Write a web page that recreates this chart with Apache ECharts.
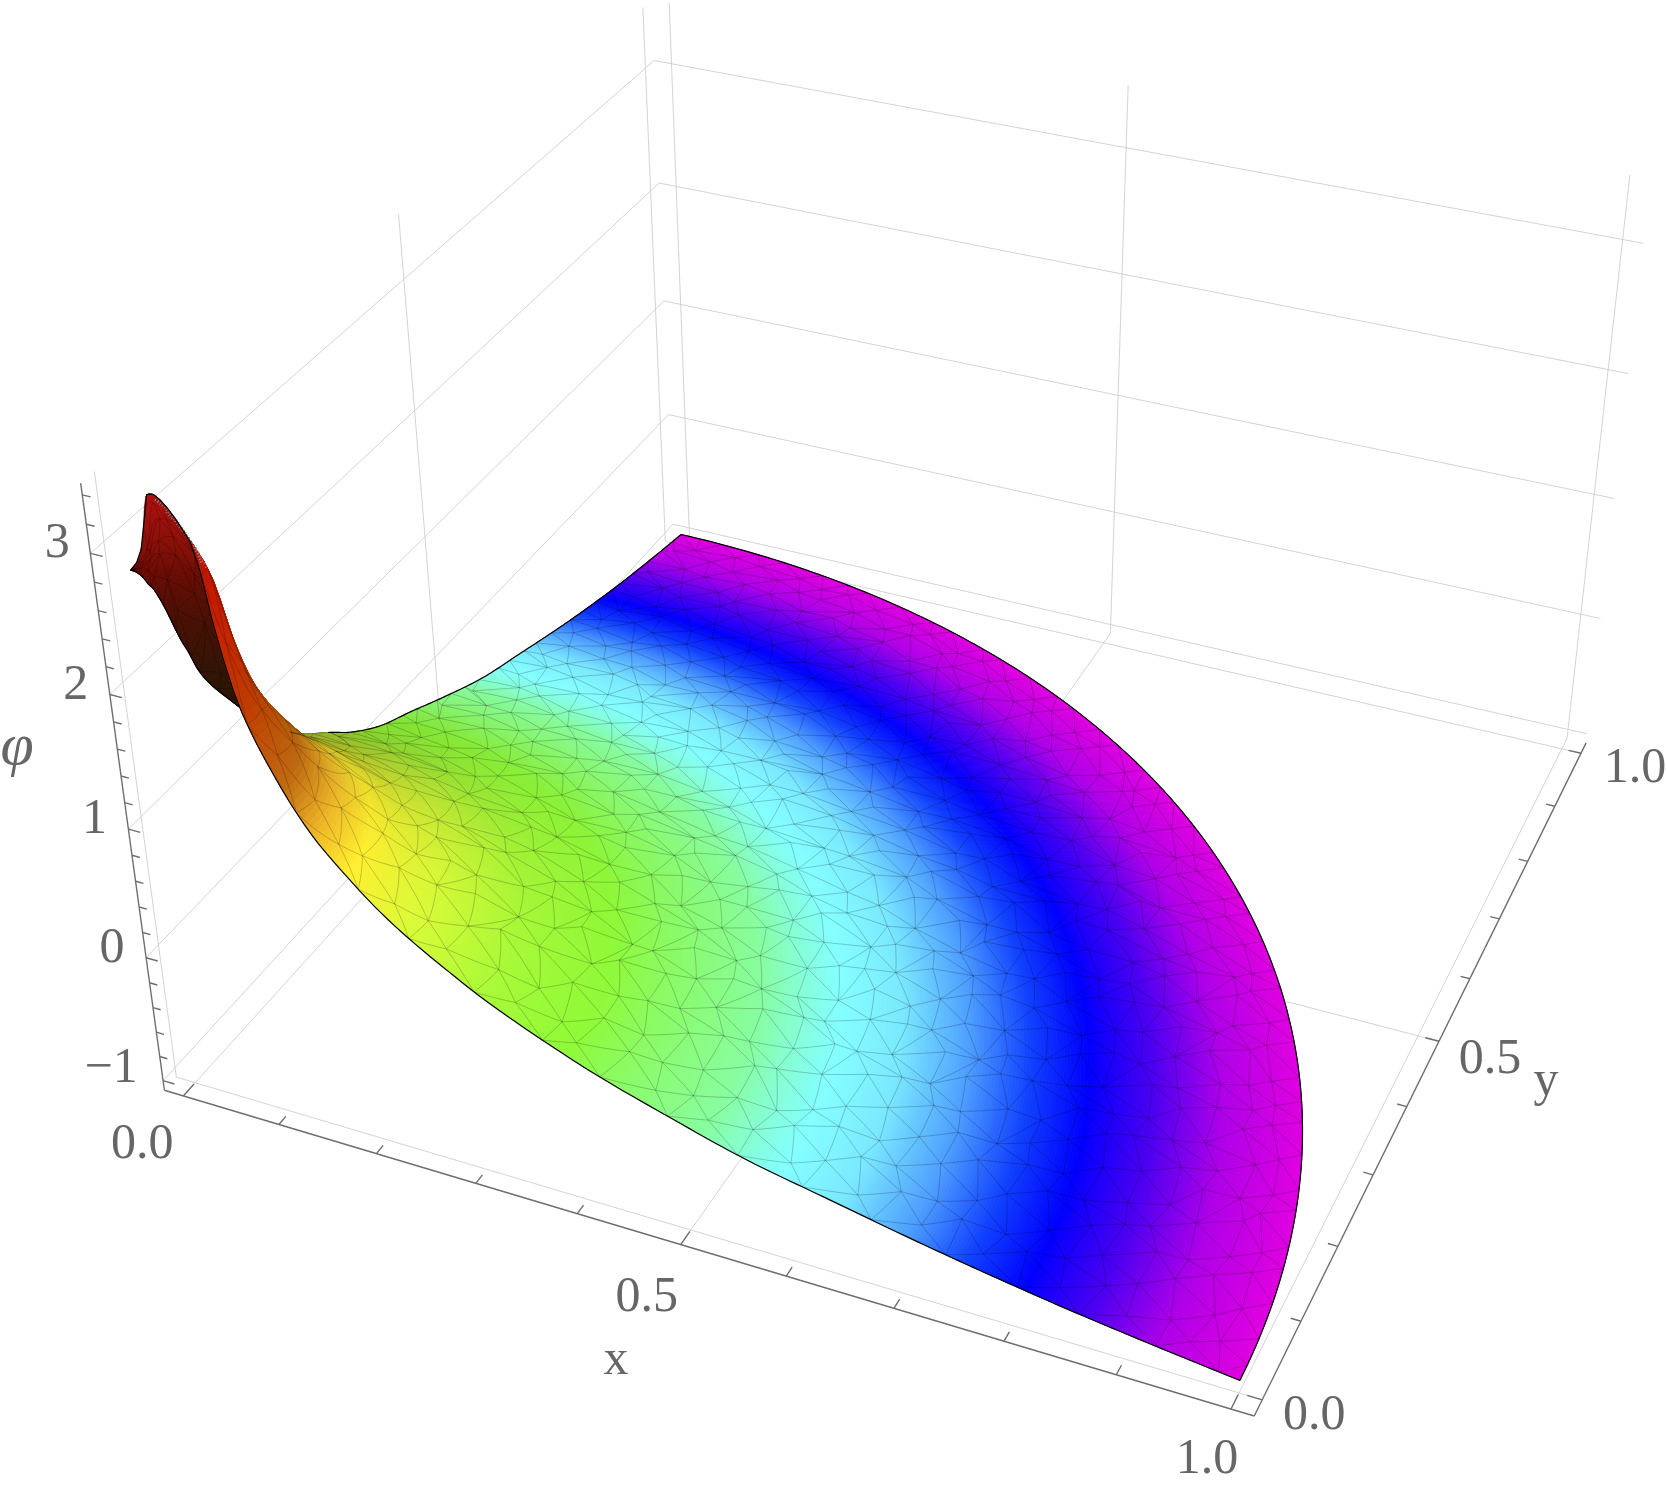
<!DOCTYPE html>
<html><head><meta charset="utf-8">
<style>html,body{margin:0;padding:0;background:#fff}#c{width:1666px;height:1491px}</style>
<script src="https://cdn.jsdelivr.net/npm/echarts@6/dist/echarts.min.js"></script></head>
<body><div id="c"></div>
<script>
// ---- values
const xTicks=[0,0.5,1], yTicks=[0,0.5,1], zTicks=[-1,0,1,2,3];
const box={x:[-0.02,1.02],y:[-0.02,1.02],z:[-1.08,3.48]};
const phiRadii=[0.004,0.012,0.02,0.0266,0.032,0.044,0.06,0.07,0.081,0.096,0.126,0.154,0.185,0.213,0.241,0.273,0.31,0.36,0.416,0.475,0.553,0.63,0.73,0.832,0.92,1];
const phiAt0 =[2.85,2.93,3.1,3.365,3.42,3.374,3.217,3.05,2.51,2.03,1.543,1.216,0.967,0.774,0.618,0.466,0.305,0.128,-0.045,-0.193,-0.372,-0.5,-0.66,-0.8,-0.9,-0.98];
const phiAt45=[2.83,2.84,2.9,2.99,3.0,2.88,2.66,2.5,2.14,1.82,1.44,1.15,0.92,0.735,0.59,0.448,0.285,0.11,-0.045,-0.193,-0.372,-0.5,-0.66,-0.8,-0.9,-0.98];
const phiAt90=[2.82,2.77,2.7,2.62,2.57,2.39,2.1,1.95,1.77,1.6,1.33,1.09,0.87,0.7,0.565,0.43,0.265,0.09,-0.045,-0.193,-0.372,-0.5,-0.66,-0.8,-0.9,-0.98];
const colorPhi=[-0.98,-0.91,-0.845,-0.77,-0.7,-0.62,-0.52,-0.43,-0.29,-0.08,0.04,0.3,0.62,0.97,1.2,1.5,2.0,2.6,3.4];
const colorFront=['#e000e0','#b000e8','#5000f0','#0000ff','#1040ff','#4c9cff','#7ae8ff','#84ffff','#88fda0','#8cfb60','#90fa38','#a8fa38','#d8fb38','#fff030','#f0b828','#c06a10','#c03c00','#c82000','#b01000'];
const backPhi=[1.2,1.8,2.3,2.7,3.0,3.4];
const colorBack=['#241602','#321404','#4a1004','#6a0c04','#8a1008','#b01010'];
const shadeRadii=[0.1,0.2,0.27,0.35,0.45,0.55];
const shadeAmount=[0.3,0.38,0.25,0.12,0.04,0];
const meshRadii=[0.004,0.012,0.02,0.03,0.04,0.055,0.07,0.085,0.1,0.12,0.14,0.165,0.19,0.215,0.24,0.271,0.302,0.333,0.364,0.395,0.426,0.457,0.488,0.519,0.55,0.581,0.612,0.643,0.674,0.705,0.736,0.767,0.798,0.829,0.86,0.891,0.922,0.953,0.976,1];
const jitterA=[0.31,-0.42,0.12,0.47,-0.18,-0.5,0.26,-0.07,0.39,-0.33,0.05,0.44,-0.27];
const jitterB=[-0.22,0.41,-0.46,0.09,0.34,-0.13,0.48,-0.38,0.17,-0.03,0.29,-0.49,0.23,0.38,-0.3,0.02,-0.16];
// ---- camera
const P=[947.49278,652.27814,-20.57008,177.73684,180.99321,-427.08763,-146.84574,950.33348,-0.09814,0.22625,-0.0224];
function proj(x,y,z){const w=P[8]*x+P[9]*y+P[10]*z+1;return [(P[0]*x+P[1]*y+P[2]*z+P[3])/w,(P[4]*x+P[5]*y+P[6]*z+P[7])/w];}
// ---- surface lookup
function hermite(xs,ys,t){let i=0;while(i<xs.length-2&&t>xs[i+1])i++;const h=xs[i+1]-xs[i],s=(t-xs[i])/h;
 const sl=k=>k<=0?(ys[1]-ys[0])/(xs[1]-xs[0]):k>=xs.length-1?(ys[k]-ys[k-1])/(xs[k]-xs[k-1]):(ys[k+1]-ys[k-1])/(xs[k+1]-xs[k-1]);
 const m0=sl(i)*h,m1=sl(i+1)*h,s2=s*s,s3=s2*s;return (2*s3-3*s2+1)*ys[i]+(s3-2*s2+s)*m0+(-2*s3+3*s2)*ys[i+1]+(s3-s2)*m1;}
function phi(r,a){const f=a/(Math.PI/2);const p0=hermite(phiRadii,phiAt0,r),p1=hermite(phiRadii,phiAt45,r),p2=hermite(phiRadii,phiAt90,r);
 return f<0.5?p0+(p1-p0)*f*2:p1+(p2-p1)*(f-0.5)*2;}
function pt(r,a){return proj(r*Math.cos(a),r*Math.sin(a),phi(r,a));}
function hex(c){return [parseInt(c.substr(1,2),16),parseInt(c.substr(3,2),16),parseInt(c.substr(5,2),16)];}
function lerpTable(xs,ys,t){if(t<=xs[0])return ys[0];if(t>=xs[xs.length-1])return ys[ys.length-1];let i=0;while(t>xs[i+1])i++;return ys[i]+(ys[i+1]-ys[i])*(t-xs[i])/(xs[i+1]-xs[i]);}
function ramp(zs,cs,z,k){let i=0;if(z<=zs[0])i=0;else{while(i<zs.length-2&&z>zs[i+1])i++;}const t=Math.max(0,Math.min(1,(z-zs[i])/(zs[i+1]-zs[i])));const a=hex(cs[i]),b=hex(cs[i+1]);
 return 'rgb('+[0,1,2].map(c=>Math.round((a[c]+(b[c]-a[c])*t)*k)).join(',')+')';}
// ---- cells
const H=Math.PI/2;const frontCells=[],backCells=[];
function facing(r1,r2,a1,a2){const p=pt(r1,a1),q=pt(r2,a1),s=pt(r2,a2);return (q[0]-p[0])*(s[1]-p[1])-(q[1]-p[1])*(s[0]-p[0]);}
const refSign=Math.sign(facing(0.6,0.62,0.7,0.72));
(function(){const steps=[];let r=phiRadii[0];while(r<0.55-1e-9){steps.push(r);r+=r<0.2?0.003:(r<0.36?0.005:0.006);}steps.push(0.55);
 for(let i=0;i<steps.length-1;i++){const nA=26;for(let j=0;j<nA;j++){const a1=H*j/nA,a2=H*(j+1)/nA;const r1=steps[i],r2=steps[i+1];
  const cell=[r1,r2,a1,a2,1];const s=Math.sign(facing(r1,r2,a1,a2));
  (s===refSign?frontCells:backCells).push(cell);}}
 for(r=0.55;r<1-1e-9;r+=0.003){frontCells.push([r,Math.min(1,r+0.003),0,H,64]);}})();
const depth=c=>{const r=(c[0]+c[1])/2,a=(c[2]+c[3])/2,x=r*Math.cos(a),y=r*Math.sin(a),z=phi(r,a);return P[8]*x+P[9]*y+P[10]*z;};
frontCells.sort((p,q)=>depth(q)-depth(p));backCells.sort((p,q)=>depth(q)-depth(p));
function renderCell(colors,stops,shaded){return function(params,api){const r1=api.value(0),r2=api.value(1),a1=api.value(2),a2=api.value(3),n=api.value(4);const pts=[];
 for(let k=0;k<=n;k++)pts.push(api.coord(pt(r1,a1+(a2-a1)*k/n)));for(let k=n;k>=0;k--)pts.push(api.coord(pt(r2,a1+(a2-a1)*k/n)));
 const rm=(r1+r2)/2,am=(a1+a2)/2,g=am/H;const k=shaded?1-lerpTable(shadeRadii,shadeAmount,rm)*g*g:1;
 const col=ramp(stops,colors,phi(rm,am),k);return {type:'polygon',shape:{points:pts},style:{fill:col,stroke:col,lineWidth:1},silent:true};};}
// ---- mesh
const meshFront=[],meshBack=[];
(function(){let ja=0,jb=0;const rings=meshRadii.map((r,i)=>{const n=Math.max(5,Math.round(r*H/0.038));const dr=i>0?(meshRadii[i]-meshRadii[i-1]):0;const o=[];
  for(let j=0;j<=n;j++){let a=H*(j+(i%2?0.5:0))/n;if(j===n&&i%2)a=H;
   if(j>0&&j<n)a+=jitterA[ja++%jitterA.length]*0.42*H/n;a=Math.max(0,Math.min(H,a));
   let rr=r;if(i>0&&i<meshRadii.length-1)rr+=jitterB[jb++%jitterB.length]*0.5*dr;o.push([rr,a]);}
  return o;});
 const add=(p,q)=>{const rm=(p[0]+q[0])/2,am=(p[1]+q[1])/2;const f=Math.sign(facing(rm,rm+0.002,Math.max(0,am-0.02),Math.max(0,am-0.02)+0.02));(f===refSign?meshFront:meshBack).push([p[0],p[1],q[0],q[1]]);};
 rings.forEach((ring,i)=>{for(let j=0;j<ring.length-1;j++)add(ring[j],ring[j+1]);
  if(i<rings.length-1){const nx=rings[i+1];let a=0,b=0;add(ring[0],nx[0]);while(a<ring.length-1||b<nx.length-1){
    const ta=a<ring.length-1?ring[a+1][1]:9,tb=b<nx.length-1?nx[b+1][1]:9;if(ta<tb)a++;else b++;add(ring[a],nx[b]);}}});})();
function renderMesh(params,api){const r1=api.value(0),a1=api.value(1),r2=api.value(2),a2=api.value(3);const p=[];for(let k=0;k<=4;k++){const t=k/4;p.push(api.coord(pt(r1+(r2-r1)*t,a1+(a2-a1)*t)));}
 return {type:'polyline',shape:{points:p},style:{stroke:'rgba(0,0,0,0.26)',lineWidth:0.8,fill:null},silent:true};}
// ---- edges
function edgeSeries(list,w,col,dash){return {type:'custom',coordinateSystem:'cartesian2d',silent:true,clip:false,animation:false,data:list,renderItem:function(params,api){const r1=api.value(0),r2=api.value(1),a1=api.value(2),a2=api.value(3);const p=[];for(let k=0;k<=160;k++){const t=k/160;p.push(api.coord(pt(r1+(r2-r1)*t,a1+(a2-a1)*t)));}
 return {type:'polyline',shape:{points:p},style:{stroke:col||'#000',lineWidth:w,fill:null,lineDash:dash||null},silent:true};}};}
// ---- frame lines
const grid=[],dark=[];
const X=box.x,Y=box.y,Z=box.z;
xTicks.forEach(t=>{grid.push([t,Y[0],Z[0],t,Y[1],Z[0]]);grid.push([t,Y[1],Z[0],t,Y[1],Z[1]]);});
yTicks.forEach(t=>{grid.push([X[0],t,Z[0],X[1],t,Z[0]]);grid.push([X[0],t,Z[0],X[0],t,Z[1]]);});
zTicks.forEach(t=>{grid.push([X[0],Y[0],t,X[0],Y[1],t]);grid.push([X[0],Y[1],t,X[1],Y[1],t]);});
dark.push([X[0],Y[0],Z[0],X[1],Y[0],Z[0]]);dark.push([X[1],Y[0],Z[0],X[1],Y[1],Z[0]]);dark.push([X[0],Y[0],Z[0],X[0],Y[0],Z[1]]);
for(let i=0;i<=10;i++){const t=i/10,maj=i%5===0;dark.push([t,Y[0],Z[0],t,Y[0]+(maj?0.018:0.012),Z[0]]);dark.push([X[1],t,Z[0],X[1]-(maj?0.013:0.009),t,Z[0]]);}
for(let i=-5;i<=17;i++){const t=i/5,maj=i%5===0;dark.push([X[0],Y[0],t,X[0]+(maj?0.012:0.008),Y[0],t]);}
function lineSeries(list,col,w){return {type:'custom',coordinateSystem:'cartesian2d',silent:true,clip:false,animation:false,data:list,renderItem:function(params,api){const a=proj(api.value(0),api.value(1),api.value(2)),b=proj(api.value(3),api.value(4),api.value(5));
 return {type:'line',shape:{x1:api.coord(a)[0],y1:api.coord(a)[1],x2:api.coord(b)[0],y2:api.coord(b)[1]},style:{stroke:col,lineWidth:w},silent:true};}};}
// ---- labels: text, world anchor, pixel offset
const labelTexts=['3','2','1','0','\u22121','0.0','0.5','1.0','0.0','0.5','1.0'];
const labelAnchors=[[X[0],Y[0],3],[X[0],Y[0],2],[X[0],Y[0],1],[X[0],Y[0],0],[X[0],Y[0],-1],[0,Y[0],Z[0]],[0.5,Y[0],Z[0]],[1,Y[0],Z[0]],[X[1],0,Z[0]],[X[1],0.5,Z[0]],[X[1],1,Z[0]]];
const labelOffsets=[[-33,-9],[-34,-9],[-34,-9],[-34,-9],[-52,-12],[-41,49],[-34,53],[-24,51],[52,16],[51,19],[54,16]];
function labelSeries(){const data=labelTexts.map((t,i)=>i);return {type:'custom',coordinateSystem:'cartesian2d',silent:true,clip:false,animation:false,data:data,renderItem:function(params,api){const i=api.value(0),a=labelAnchors[i],o=labelOffsets[i],q=api.coord(proj(a[0],a[1],a[2]));
 return {type:'text',style:{text:labelTexts[i],x:q[0]+o[0],y:q[1]+o[1],fill:'#666',font:'50px "Liberation Serif"',align:'center',verticalAlign:'middle'},silent:true};}};}
const names=[{t:'\u03c6',p:[17,748],f:'italic 60px "Liberation Serif"'},{t:'x',p:[616,1361],f:'50px "Liberation Serif"'},{t:'y',p:[1546,1082],f:'50px "Liberation Serif"'}];
function nameSeries(){return {type:'custom',coordinateSystem:'cartesian2d',silent:true,clip:false,animation:false,data:names.map((n,i)=>[n.p[0],n.p[1],i]),renderItem:function(params,api){const q=api.coord([api.value(0),api.value(1)]),n=names[api.value(2)];
 return {type:'text',style:{text:n.t,x:q[0],y:q[1],fill:'#666',font:n.f,align:'center',verticalAlign:'middle'},silent:true};}};}
const cellSeries=(list,col,st,sh)=>({type:'custom',coordinateSystem:'cartesian2d',silent:true,clip:false,animation:false,data:list,renderItem:renderCell(col,st,sh)});
const meshSeries=list=>({type:'custom',coordinateSystem:'cartesian2d',silent:true,clip:false,animation:false,data:list,renderItem:renderMesh});
const chart=echarts.init(document.getElementById('c'),null,{renderer:'canvas'});
chart.setOption({animation:false,backgroundColor:'#fff',
 grid:{left:0,right:0,top:0,bottom:0},
 xAxis:{type:'value',min:0,max:1666,show:false},yAxis:{type:'value',min:0,max:1491,inverse:true,show:false},
 series:[lineSeries(grid,'#d4d4d4',1),lineSeries(dark,'#6e6e6e',1.4),
  cellSeries(backCells,colorBack,backPhi,false),meshSeries(meshBack),
  edgeSeries([[0.004,0.27,H,H]],1.2),
  cellSeries(frontCells,colorFront,colorPhi,true),meshSeries(meshFront),
  edgeSeries([[0.034,0.07,0.1,0.1]],3,'#8a8a8a',[1,2]),
  edgeSeries([[0.04,0.07,0.22,0.22]],1.4,'#8a8a8a',[1,3]),
  edgeSeries([[0.27,1,H,H],[1,1,0,H],[0.004,1,0,0],[0.004,0.004,0,H]],1.2),
  labelSeries(),nameSeries()]});
</script></body></html>
